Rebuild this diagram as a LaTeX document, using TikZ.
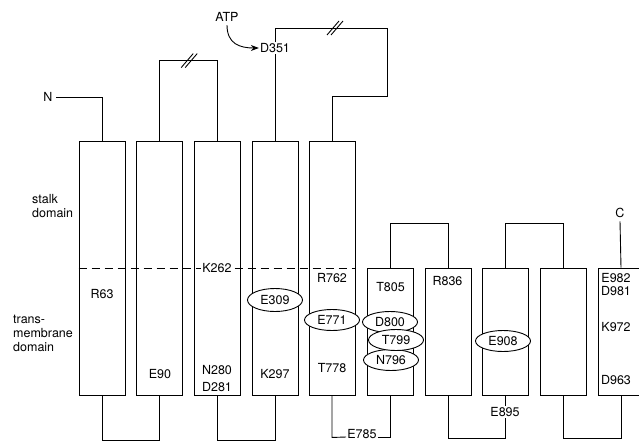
\documentclass[tikz,border=0pt]{standalone}
\usepackage{fontspec}
\setmainfont{TeX Gyre Heros}
\usetikzlibrary{shapes.geometric,arrows.meta}

\begin{document}
\begin{tikzpicture}[
    x=1pt, y=-1pt,
    every node/.style={font=\fontsize{12.5}{14}\selectfont},
    helix/.style={
        draw, line width=0.9pt, inner sep=0pt,
        minimum width=46pt, minimum height=254pt
    },
    shorthelix/.style={helix, minimum height=127pt},
    link/.style={line width=0.9pt},
    memb/.style={line width=0.9pt, dash pattern=on 8pt off 5pt},
    res/.style={inner sep=1pt},
    site/.style={
        draw, ellipse, line width=0.9pt, fill=white,
        inner sep=0pt, minimum width=55pt, minimum height=21pt
    },
    arr/.style={-{Stealth[length=8pt,width=6pt]}, line width=0.9pt}
]
\useasboundingbox (0,0) rectangle (639,442);

% Helices
\node[helix] (m1) at (102,268)   {};
\node[helix] (m2) at (159.5,268) {};
\node[helix] (m3) at (217,268)   {};
\node[helix] (m4) at (275,268)   {};
\node[helix] (m5) at (332,268)   {};
\node[shorthelix] (m6)  at (390,331.5) {};
\node[shorthelix] (m7)  at (448,331.5) {};
\node[shorthelix] (m8)  at (505,331.5) {};
\node[shorthelix] (m9)  at (563,331.5) {};
\node[shorthelix] (m10) at (621,331.5) {};

% Grenze Stiel / Membran
\draw[memb] (m1.west) -- (m5.east);
\node[res, fill=white] (k262) at (217,268) {K262};

% Domaenen
\node[res, anchor=west, align=left] (stalk) at (31,206) {stalk\\domain};
\node[res, anchor=west, align=left] (tm) at (12,333) {trans-\\membrane\\domain};

% N- und C-Terminus
\node (nterm) at (48,97) {N};
\draw[link] (nterm.east) -| (m1.north);
\node (cterm) at (620,213) {C};
\draw[link] (cterm.south) -- (m10.north);

% obere Schleifen
\draw[link] (m2.north) -- ++(0,-80) -| coordinate[pos=0.25] (cut1) (m3.north);
\draw[link] (cut1) ++(-7,7) -- ++(12,-14);
\draw[link] (cut1) ++(-3,7) -- ++(12,-14);

\node[res] (d351) at (275,48) {D351};
\draw[link] (m4.north) -- (d351.south);
\draw[link] (d351.north) |- (387,28) |- (332,96) -- (m5.north);
\coordinate (cut2) at (334,28);
\draw[link] (cut2) ++(-7,7) -- ++(12,-14);
\draw[link] (cut2) ++(-3,7) -- ++(12,-14);

\node (atp) at (227,17) {ATP};
\draw[arr] (atp.south) .. controls (227,44) and (240,48) .. (d351.west);

\draw[link] (m6.north) -- ++(0,-44) -| (m7.north);
\draw[link] (m8.north) -- ++(0,-44) -| (m9.north);

% untere Schleifen
\draw[link] (m1.south) -- ++(0,45) -| (m2.south);
\draw[link] (m3.south) -- ++(0,45) -| (m4.south);
\node[res] (e785) at (362,434) {E785};
\draw[link] (m5.south) -- ++(0,42) -- (e785.west |- 0,437);
\draw[link] (e785.east |- 0,437) -| (m6.south);
\node[res] (e895) at (505,412) {E895};
\draw[link] (m7.south) -- ++(0,43) -| (e895.south);
\draw[link] (e895.north) -- (m8.south);
\draw[link] (m9.south) -- ++(0,43) -| (m10.south);

% Reste
\node[res] (r63)  at (102,294)   {R63};
\node[res] (e90)  at (160,374)   {E90};
\node[res] (n280) at (217,370)   {N280};
\node[res] (d281) at (217,387)   {D281};
\node[res] (k297) at (275,374)   {K297};
\node[res] (r762) at (332,278)   {R762};
\node[res] (t778) at (332,368)   {T778};
\node[res] (t805) at (390.5,287) {T805};
\node[res] (r836) at (447.5,281) {R836};
\node[res] (e982) at (616,278)   {E982};
\node[res] (d981) at (616,291)   {D981};
\node[res] (k972) at (616,327)   {K972};
\node[res] (d963) at (616,380)   {D963};

% markierte Reste
\node[site, minimum height=23pt] (e309) at (275,300) {E309};
\node[site] (e771) at (332,320) {E771};
\node[site] (d800) at (390,322) {D800};
\node[site] (n796) at (391,360) {N796};
\node[site] (t799) at (396,340) {T799};
\node[site] (e908) at (503,341) {E908};

\end{tikzpicture}
\end{document}
